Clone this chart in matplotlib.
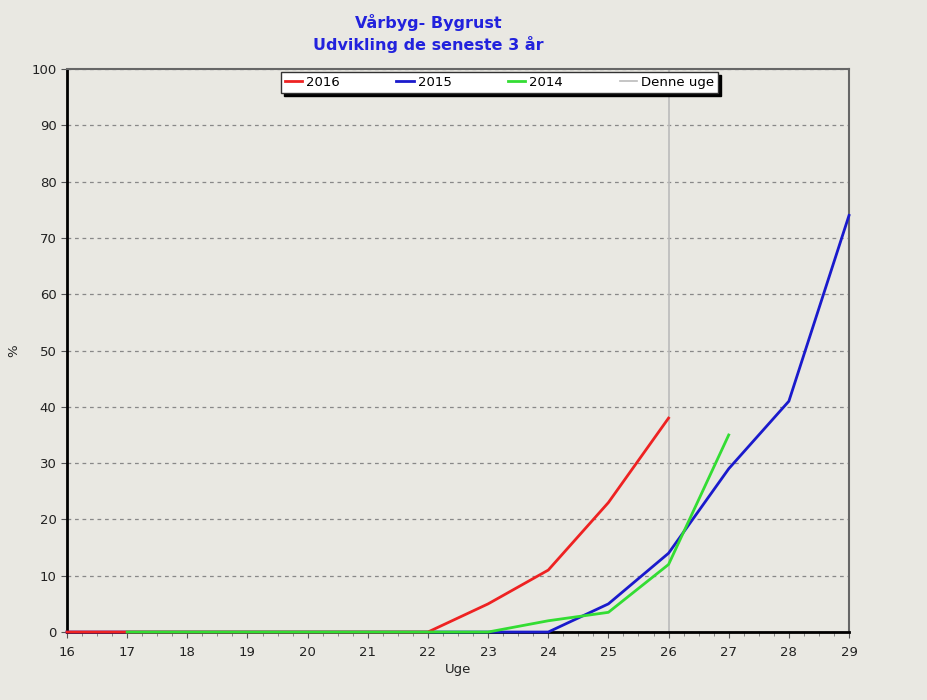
import numpy as np
from matplotlib import pyplot as plt
from matplotlib.ticker import MultipleLocator

BG = '#e9e8e2'

weeks_2016 = [16, 17, 18, 19, 20, 21, 22, 23, 24, 25, 26]
vals_2016 = [0, 0, 0, 0, 0, 0, 0, 5, 11, 23, 38]

weeks_2015 = [16, 17, 18, 19, 20, 21, 22, 23, 24, 25, 26, 27, 28, 29]
vals_2015 = [0, 0, 0, 0, 0, 0, 0, 0, 0, 5, 14, 29, 41, 74]

weeks_2014 = [17, 18, 19, 20, 21, 22, 23, 24, 25, 26, 27]
vals_2014 = [0, 0, 0, 0, 0, 0, 0, 2, 3.5, 12, 35]

this_week = 26

fig = plt.figure(figsize=(9.28, 7), dpi=100, facecolor=BG)
ax = fig.add_axes([0.0722, 0.0971, 0.8427, 0.8043], facecolor=BG)

ax.plot(weeks_2016, vals_2016, color='#ee2222', lw=2, label='2016', zorder=4, clip_on=False)
ax.plot(weeks_2015, vals_2015, color='#1a1acc', lw=2, label='2015', zorder=3, clip_on=False)
ax.plot(weeks_2014, vals_2014, color='#33dd33', lw=2, label='2014', zorder=5, clip_on=False)
ax.axvline(this_week, color='#bbbbbb', lw=1.2, label='Denne uge', zorder=2)

ax.set_xlim(16, 29)
ax.set_ylim(0, 100)
ax.xaxis.set_major_locator(MultipleLocator(1))
ax.xaxis.set_minor_locator(MultipleLocator(0.25))
ax.yaxis.set_major_locator(MultipleLocator(10))
ax.grid(axis='y', color='#888888', ls=(0, (3, 3)), lw=0.9)
ax.set_axisbelow(True)

for s in ['left', 'bottom']:
    ax.spines[s].set_color('black')
    ax.spines[s].set_linewidth(2)
for s in ['top', 'right']:
    ax.spines[s].set_color('#666666')
    ax.spines[s].set_linewidth(1.5)

ax.tick_params(axis='both', which='major', labelsize=9.5, colors='#555555',
               labelcolor='#222222', length=4)
ax.tick_params(axis='x', which='major', pad=6)
ax.tick_params(axis='x', which='minor', length=3, colors='#777777')
ax.set_xlabel('Uge', fontsize=9.5, color='#222222', labelpad=3)
ax.set_ylabel('%', fontsize=9.5, color='#222222', labelpad=8)

fig.text(0.462, 0.968, 'Vårbyg- Bygrust', ha='center', va='center',
         color='#2222dd', fontsize=11.5, fontweight='bold')
fig.text(0.462, 0.936, 'Udvikling de seneste 3 år', ha='center', va='center',
         color='#2222dd', fontsize=11.5, fontweight='bold')

leg = ax.legend(loc='upper center', bbox_to_anchor=(0.553, 0.995), ncol=4,
                fontsize=9.5, frameon=True, fancybox=False, shadow={'color': 'black', 'alpha': 1},
                handlelength=1.3, handletextpad=0.3, columnspacing=4.3,
                borderpad=0.3, borderaxespad=0)
leg.get_frame().set_edgecolor('#333333')
leg.get_frame().set_facecolor('white')
leg.get_frame().set_linewidth(1)

fig.savefig('out.png', dpi=100, facecolor=BG)
